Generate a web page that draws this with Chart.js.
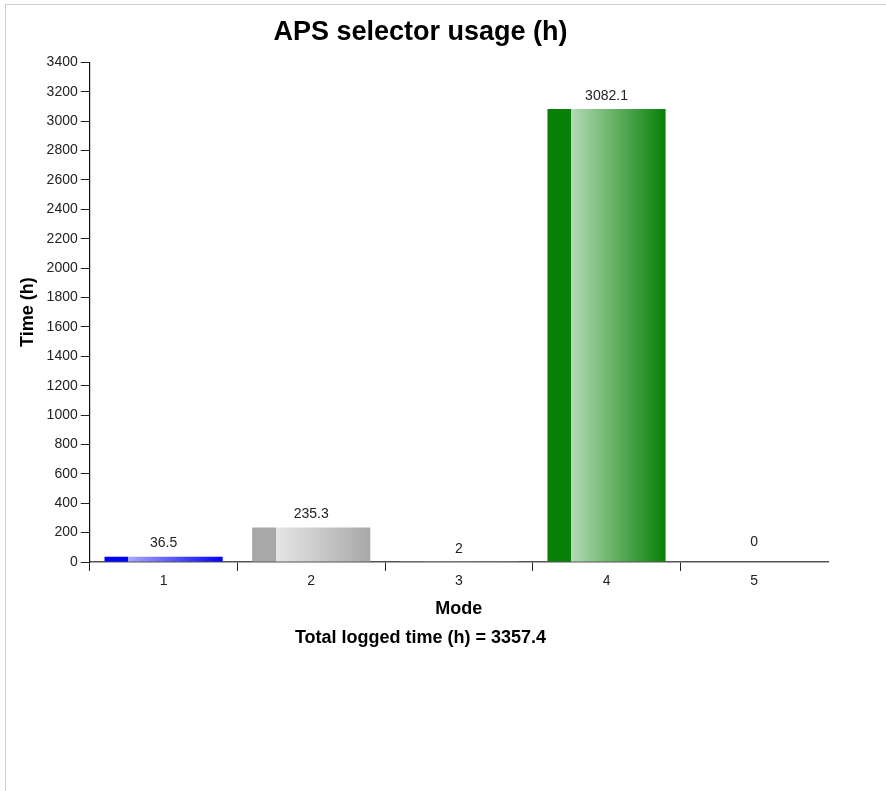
<!DOCTYPE html>
<html>
<head>
<meta charset="utf-8">
<script src="https://cdn.jsdelivr.net/npm/chart.js@4.4.0/dist/chart.umd.min.js"></script>
<style>
  html, body { margin: 0; padding: 0; background: #fff; }
  body { width: 886px; height: 791px; position: relative; overflow: hidden; }
  #frame {
    position: absolute; left: 5px; top: 4px; right: 0; bottom: 0;
    border-top: 1px solid #cfcfcf; border-left: 1px solid #cfcfcf;
  }
  #wrap { position: absolute; left: 5px; top: 5px; width: 833px; height: 660px; }
</style>
</head>
<body>
<div id="frame"></div>
<div id="wrap"><canvas id="usageChart"></canvas></div>
<script>
// chart data
const modes = ['1', '2', '3', '4', '5'];
const hours = [36.5, 235.3, 2, 3082.1, 0];
const totalHours = 3357.4;

// bar colours: [dark edge, light start]
const darkColors = ['#0000ff', '#a8a8a8', '#a8a8a8', '#088008', '#088008'];
const lightColors = ['#a8a8ff', '#e6e6e6', '#e6e6e6', '#b4dab4', '#b4dab4'];

const FONT = "'Liberation Sans', Arial, sans-serif";

function barGradient(ctx) {
  const chart = ctx.chart;
  const i = ctx.dataIndex;
  const x = chart.scales && chart.scales.x;
  if (!chart.chartArea || !x || i === undefined) return darkColors[i] || '#888';
  const center = x.getPixelForValue(i);
  const half = (x.width / modes.length) * 0.8 / 2;
  const g = chart.ctx.createLinearGradient(center - half, 0, center + half, 0);
  g.addColorStop(0, darkColors[i]);
  g.addColorStop(0.2, darkColors[i]);
  g.addColorStop(0.2, lightColors[i]);
  g.addColorStop(1, darkColors[i]);
  return g;
}

// value labels above each bar
const valueLabels = {
  id: 'valueLabels',
  afterDatasetsDraw(chart) {
    const ctx = chart.ctx;
    const meta = chart.getDatasetMeta(0);
    ctx.save();
    ctx.font = '14px ' + FONT;
    ctx.fillStyle = '#222';
    ctx.textAlign = 'center';
    ctx.textBaseline = 'middle';
    meta.data.forEach((bar, i) => {
      const v = hours[i];
      let y = bar.y - 13;
      if (v === 0) y -= 7;
      ctx.fillText(String(v), bar.x, y);
    });
    ctx.restore();
  }
};

new Chart(document.getElementById('usageChart'), {
  type: 'bar',
  data: {
    labels: modes,
    datasets: [{
      label: 'Time (h)',
      data: hours,
      backgroundColor: barGradient,
      borderWidth: 0,
      categoryPercentage: 0.8,
      barPercentage: 1.0
    }]
  },
  options: {
    responsive: true,
    maintainAspectRatio: false,
    animation: false,
    layout: { padding: { left: 8, right: 10, top: 0, bottom: 0 } },
    plugins: {
      legend: { display: false },
      tooltip: { enabled: false },
      title: {
        display: true,
        text: 'APS selector usage (h)',
        color: '#000',
        font: { family: FONT, size: 27, weight: 'bold', lineHeight: 1.2 },
        padding: { top: 11, bottom: 14 }
      },
      subtitle: {
        display: true,
        position: 'bottom',
        text: 'Total logged time (h) = ' + totalHours,
        color: '#000',
        font: { family: FONT, size: 18, weight: 'bold', lineHeight: 1.2 },
        padding: { top: 4, bottom: 16 }
      }
    },
    scales: {
      x: {
        grid: {
          offset: true,
          drawOnChartArea: false,
          drawTicks: true,
          tickLength: 9,
          color: ctx => (ctx.tick ? '#222' : 'rgba(0,0,0,0)'),
          lineWidth: 1
        },
        border: { display: true, color: '#555', width: 1.5 },
        ticks: { color: '#222', padding: 2, font: { family: FONT, size: 14 } },
        title: {
          display: true,
          text: 'Mode',
          color: '#000',
          font: { family: FONT, size: 18, weight: 'bold', lineHeight: 1.2 },
          padding: { top: 6, bottom: 4 }
        }
      },
      y: {
        min: 0,
        max: 3400,
        grid: {
          drawOnChartArea: false,
          drawTicks: true,
          tickLength: 9,
          color: '#222'
        },
        border: { display: true, color: '#111', width: 1.2 },
        ticks: {
          stepSize: 200,
          color: '#222',
          padding: 3,
          font: { family: FONT, size: 14 },
          callback: v => String(v)
        },
        title: {
          display: true,
          text: 'Time (h)',
          color: '#000',
          font: { family: FONT, size: 18, weight: 'bold', lineHeight: 1.2 },
          padding: { top: 4, bottom: 5 }
        }
      }
    }
  },
  plugins: [valueLabels]
});
</script>
</body>
</html>
